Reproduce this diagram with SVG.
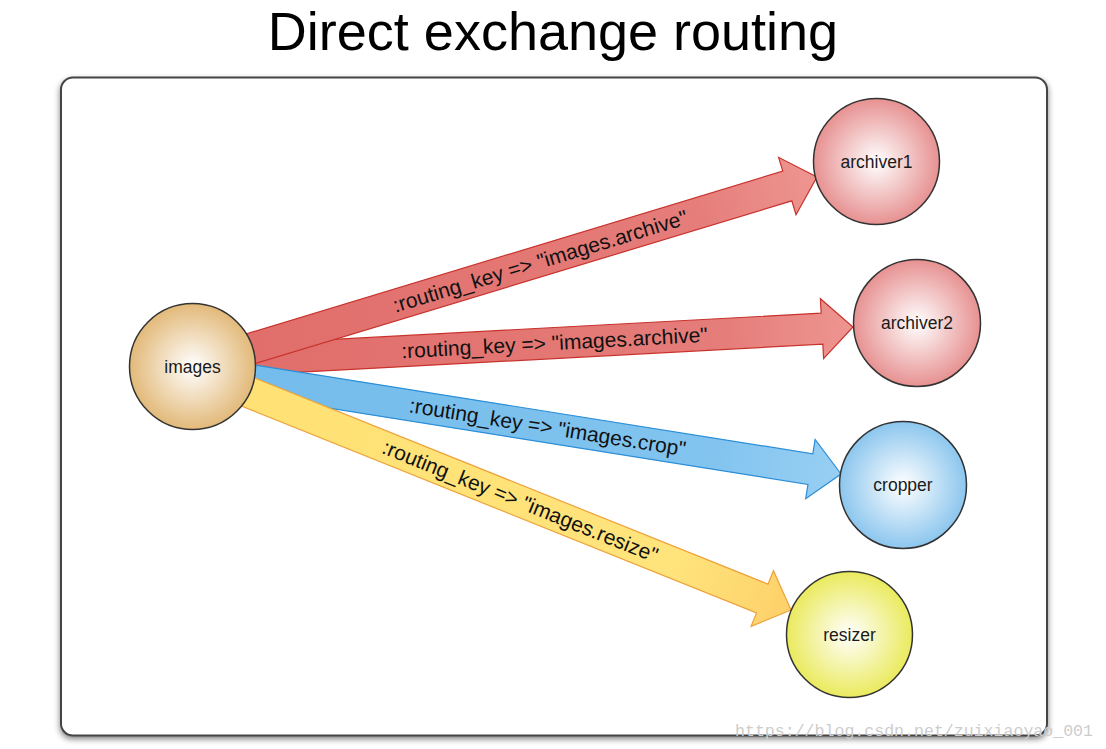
<svg xmlns="http://www.w3.org/2000/svg" width="1106" height="749" viewBox="0 0 1106 749">
<defs>
<style>
.title{font-family:"Liberation Sans",Arial,sans-serif;font-size:54px;fill:#000;text-anchor:middle}
.nl{font-family:"Liberation Sans",Arial,sans-serif;font-size:17.5px;fill:#1a1a1a;text-anchor:middle}
.al{font-family:"Liberation Sans",Arial,sans-serif;font-size:21px;fill:#111;text-anchor:middle}
.node{stroke:#333;stroke-width:1.5}
.red{fill:url(#gRed);stroke:#c8322c;stroke-width:1.2}
.blue{fill:url(#gBlue);stroke:#2a8ed8;stroke-width:1.2}
.yel{fill:url(#gYel);stroke:#eea23a;stroke-width:1.2}
.wm{font-family:"Liberation Mono","Courier New",monospace;font-size:16.5px;fill:#cdcdcd}
</style>
<filter id="sh" x="-5%" y="-5%" width="110%" height="110%"><feGaussianBlur stdDeviation="3"/></filter>
<radialGradient id="nImg"><stop offset="0" stop-color="#ffffff"/><stop offset="1" stop-color="#e2b979"/></radialGradient>
<radialGradient id="nRed"><stop offset="0" stop-color="#ffffff"/><stop offset="1" stop-color="#e79191"/></radialGradient>
<radialGradient id="nBlue"><stop offset="0" stop-color="#ffffff"/><stop offset="1" stop-color="#8cc6ee"/></radialGradient>
<radialGradient id="nYel"><stop offset="0" stop-color="#ffffff"/><stop offset="1" stop-color="#eaea5e"/></radialGradient>
<linearGradient id="gRed" x1="0" y1="0" x2="1" y2="0"><stop offset="0" stop-color="#e06c69"/><stop offset="0.8" stop-color="#e57d7a"/><stop offset="1" stop-color="#ee9590"/></linearGradient>
<linearGradient id="gBlue" x1="0" y1="0" x2="1" y2="0"><stop offset="0" stop-color="#72bbeb"/><stop offset="0.8" stop-color="#82c4ef"/><stop offset="1" stop-color="#98cff3"/></linearGradient>
<linearGradient id="gYel" x1="0" y1="0" x2="1" y2="0"><stop offset="0" stop-color="#ffe174"/><stop offset="0.8" stop-color="#ffe47c"/><stop offset="1" stop-color="#fdd06a"/></linearGradient>
</defs>
<rect width="1106" height="749" fill="#ffffff"/>
<text class="title" x="553" y="50">Direct exchange routing</text>
<g id="frame">
<rect x="60" y="80" width="988" height="659" rx="12" fill="#000" opacity="0.5" filter="url(#sh)"/>
<rect x="61" y="77.5" width="986" height="658" rx="12" fill="#ffffff" stroke="#444" stroke-width="2"/>
</g>
<g id="connectors">
<g id="e-archiver2" transform="translate(200,362.1) rotate(-3.08)">
<polygon class="red" points="0,-15.5 622.9,-15.5 622.9,-30 653.9,0 622.9,30 622.9,15.5 0,15.5"/>
<text class="al" x="355" y="7">:routing_key =&gt; "images.archive"</text>
</g>
<g id="e-archiver1" transform="translate(200.4,364) rotate(-16.87)">
<polygon class="red" points="0,-15.5 613.3,-15.5 613.3,-30 644.3,0 613.3,30 613.3,15.5 0,15.5"/>
<text class="al" x="355" y="7.5">:routing_key =&gt; "images.archive"</text>
</g>
<g id="e-cropper" transform="translate(200,371.9) rotate(9.05)">
<polygon class="blue" points="0,-15.5 618.1,-15.5 618.1,-30 649.1,0 618.1,30 618.1,15.5 0,15.5"/>
<text class="al" x="352" y="7">:routing_key =&gt; "images.crop"</text>
</g>
<g id="e-resizer" transform="translate(200,372.7) rotate(21.88)">
<polygon class="yel" points="0,-15.5 605.9,-15.5 605.9,-30 636.9,0 605.9,30 605.9,15.5 0,15.5"/>
<text class="al" x="345" y="7">:routing_key =&gt; "images.resize"</text>
</g>
</g>
<g id="images">
<circle class="node" cx="192.5" cy="366.5" r="63" fill="url(#nImg)"/>
<text class="nl" x="192.5" y="372.5">images</text>
</g>
<g id="archiver1">
<circle class="node" cx="876.5" cy="161.5" r="63" fill="url(#nRed)"/>
<text class="nl" x="876.5" y="167.5">archiver1</text>
</g>
<g id="archiver2">
<circle class="node" cx="917" cy="323" r="63.5" fill="url(#nRed)"/>
<text class="nl" x="917" y="329">archiver2</text>
</g>
<g id="cropper">
<circle class="node" cx="903" cy="485" r="63.5" fill="url(#nBlue)"/>
<text class="nl" x="903" y="491">cropper</text>
</g>
<g id="resizer">
<circle class="node" cx="849.5" cy="634.5" r="63" fill="url(#nYel)"/>
<text class="nl" x="849.5" y="640.5">resizer</text>
</g>
<text class="wm" x="735" y="736" textLength="358" lengthAdjust="spacingAndGlyphs">https://blog.csdn.net/zuixiaoyao_001</text>
</svg>
